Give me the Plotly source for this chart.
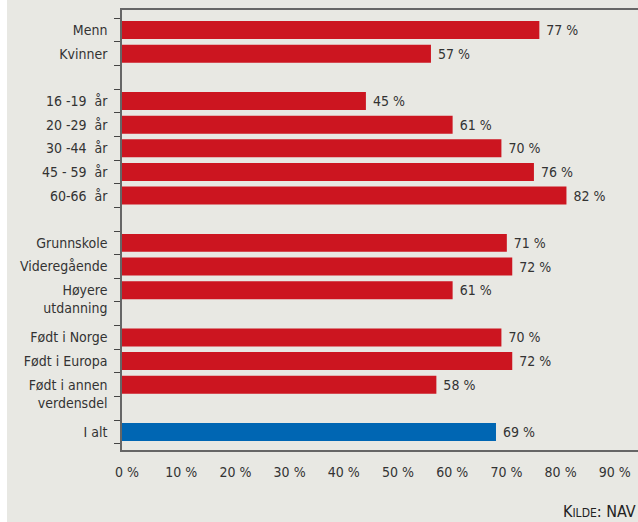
import plotly.graph_objects as go

# categories top to bottom; blank strings are the empty gap rows
CATEGORIES = [
    "Menn", "Kvinner",
    " ",
    "16 -19  år", "20 -29  år", "30 -44  år", "45 - 59  år", "60-66  år",
    "  ",
    "Grunnskole", "Videregående", "Høyere utdanning",
    "   ",
    "Født i Norge", "Født i Europa", "Født i annen verdensdel",
    "    ",
    "I alt",
]
# two-line labels keep their first line level with the bar
TICK_TEXT = [
    "Menn", "Kvinner",
    "",
    "16 -19  år", "20 -29  år", "30 -44  år", "45 - 59  år", "60-66  år",
    "",
    "Grunnskole", "Videregående", "\u00a0<br>Høyere<br>utdanning",
    "",
    "Født i Norge", "Født i Europa", "\u00a0<br>Født i annen<br>verdensdel",
    "",
    "I alt",
]

GROUP_LABELS = [
    "Menn", "Kvinner",
    "16 -19  år", "20 -29  år", "30 -44  år", "45 - 59  år", "60-66  år",
    "Grunnskole", "Videregående", "Høyere utdanning",
    "Født i Norge", "Født i Europa", "Født i annen verdensdel",
]
GROUP_VALUES = [77, 57, 45, 61, 70, 76, 82, 71, 72, 61, 70, 72, 58]

TOTAL_LABEL = ["I alt"]
TOTAL_VALUE = [69]

X_TICKS = [0, 10, 20, 30, 40, 50, 60, 70, 80, 90]

RED = "#cc1520"
BLUE = "#0066b3"
BG = "#e8e8e3"
TEXT = "#333333"
FONT = "DejaVu Sans Condensed"

fig = go.Figure()
for labels, values, color in [(GROUP_LABELS, GROUP_VALUES, RED),
                              (TOTAL_LABEL, TOTAL_VALUE, BLUE)]:
    fig.add_trace(go.Bar(
        x=values, y=labels, orientation="h",
        marker=dict(color=color, line_width=0),
        width=0.76,
        text=[f" {v} %" for v in values],
        textposition="outside", cliponaxis=False,
        textfont=dict(family=FONT, size=14, color=TEXT),
        showlegend=False,
    ))

W, H, L, R, T, B = 638, 522, 122, 0, 10, 72
pw = W - L - R
ph = H - T - B
fig.update_layout(
    width=W, height=H,
    margin=dict(l=L, r=R, t=T, b=B),
    paper_bgcolor=BG, plot_bgcolor=BG,
    font=dict(family=FONT, size=14, color=TEXT),
    shapes=[dict(type="rect", xref="paper", yref="paper",
                 x0=-L / pw, x1=(7 - L) / pw, y0=-1, y1=2,
                 fillcolor="white", line_width=0, layer="below")],
    annotations=[dict(
        text="K<span style='font-size:12px'>ILDE</span>: NAV",
        xref="paper", yref="paper", x=1, y=-(511 - (H - B)) / ph,
        xanchor="right", yanchor="middle", showarrow=False,
        font=dict(family=FONT, size=16, color="#222"),
    )],
)
fig.update_xaxes(
    range=[0, 95.2], tickvals=X_TICKS, ticktext=[f"{v} %" for v in X_TICKS],
    showgrid=False, zeroline=False,
    showline=True, linecolor="#666", linewidth=1.5, mirror=True,
    ticks="", ticklabelshift=5, ticklabelstandoff=8,
)
fig.update_yaxes(
    type="category", categoryorder="array", categoryarray=CATEGORIES,
    tickvals=CATEGORIES, ticktext=TICK_TEXT,
    range=[17.76, -0.85],
    showgrid=False, zeroline=False,
    showline=True, linecolor="#666", linewidth=1.5,
    ticks="outside", ticklen=6, tickcolor="#444", tickwidth=1,
    tickson="boundaries", ticklabelstandoff=10,
)

fig.write_html("out.html", config={"displayModeBar": False},
               post_script="document.body.style.margin='0px';")
